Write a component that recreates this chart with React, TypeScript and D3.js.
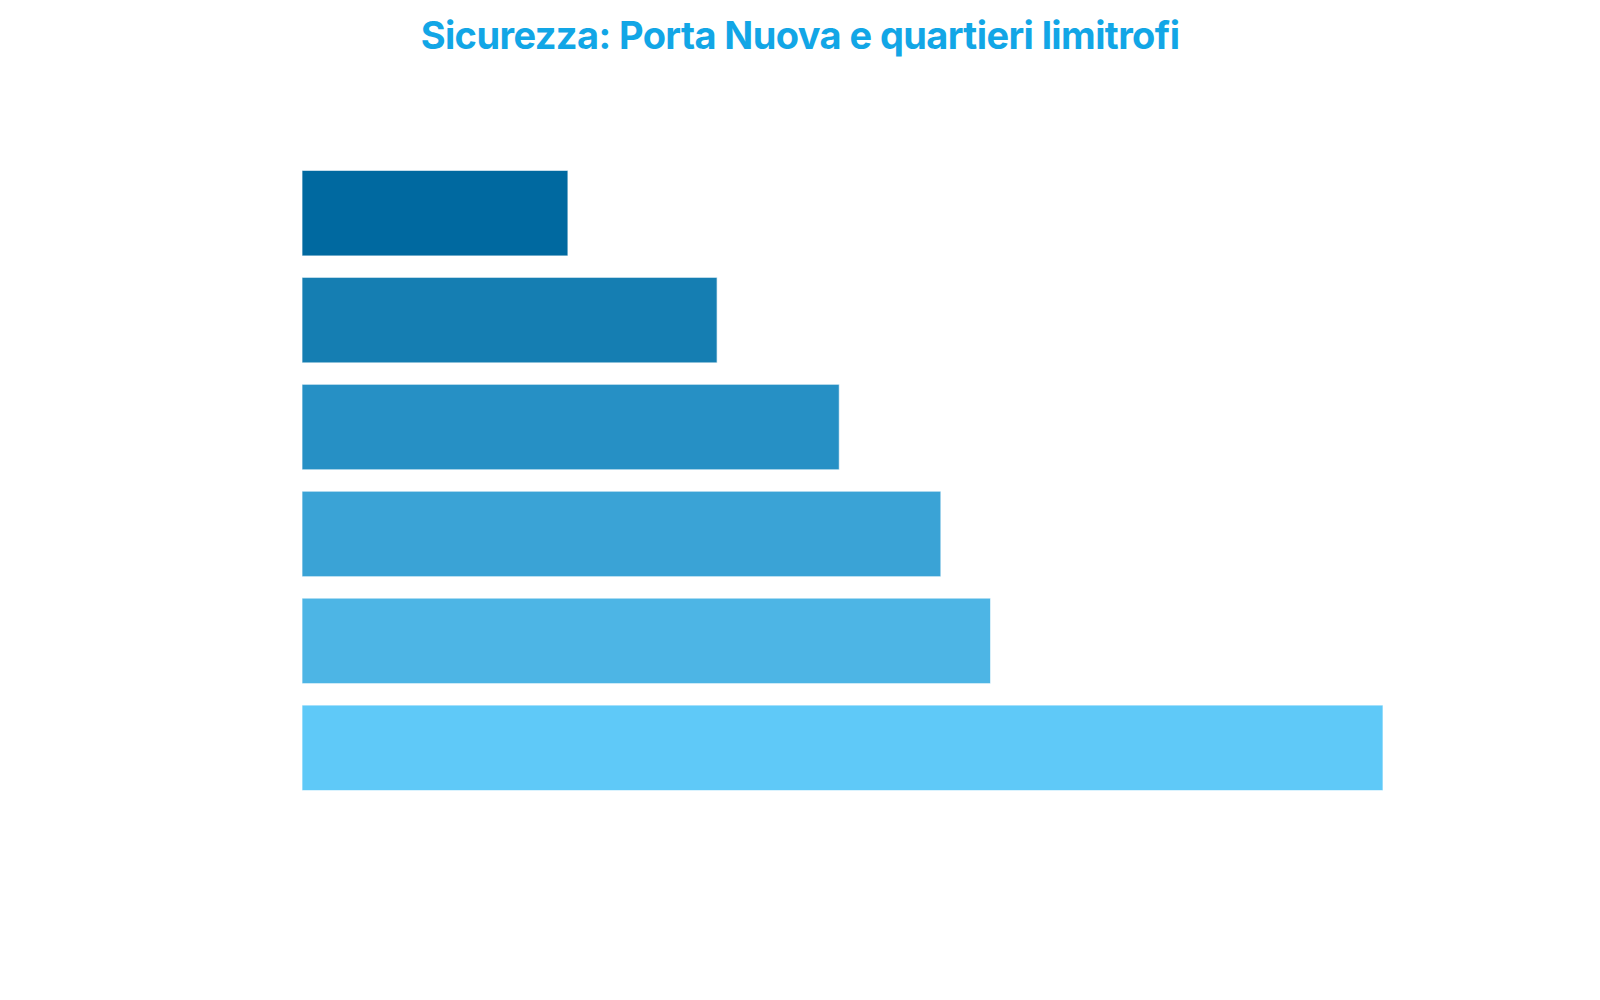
import * as d3 from "d3";

// quartieri (etichette non mostrate nel grafico originale)
const quartieri = ["Porta Nuova", "Isola", "Garibaldi", "Brera", "Centrale", "Porta Venezia"];
const punteggi = [24.6, 38.4, 49.7, 59.1, 63.7, 100];
const colori = ["#0069a0", "#157eb2", "#2690c5", "#3aa3d6", "#4db5e5", "#5fc9f8"];

const W = 1600;
const H = 1000;
const margin = { top: 149, right: 217, bottom: 188, left: 302 };

export default function App() {
  const x = d3
    .scaleLinear()
    .domain([0, d3.max(punteggi) ?? 100])
    .range([margin.left, W - margin.right]);

  const y = d3
    .scaleBand<string>()
    .domain(quartieri)
    .range([margin.top, H - margin.bottom])
    .padding(0.2);

  return (
    <svg
      width={W}
      height={H}
      style={{ position: "absolute", left: 0, top: 0, display: "block", background: "#fff" }}
    >
      <text
        x={W / 2}
        y={49}
        textAnchor="middle"
        fontFamily="Inter, 'Noto Sans', sans-serif"
        fontWeight={700}
        fontSize={38}
        letterSpacing={-0.6}
        fill="#12a6e6"
      >
        Sicurezza: Porta Nuova e quartieri limitrofi
      </text>
      <g>
        {quartieri.map((q, i) => (
          <rect
            key={q}
            x={x(0)}
            y={y(q)}
            width={x(punteggi[i]) - x(0)}
            height={y.bandwidth()}
            fill={colori[i]}
            stroke="rgba(255,255,255,0.7)"
            strokeWidth={1}
          />
        ))}
      </g>
    </svg>
  );
}
